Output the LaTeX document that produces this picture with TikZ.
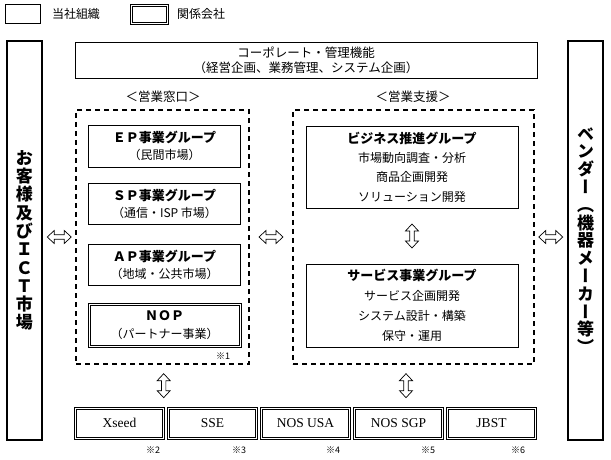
\documentclass[tikz,border=0pt]{standalone}
\usepackage{fontspec}
\setmainfont{Noto Sans CJK JP}
\newfontfamily\vfont[RawFeature=+vert]{Noto Sans CJK JP}
\newfontfamily\serfont{Liberation Serif}
\usetikzlibrary{calc}
\begin{document}
\begin{tikzpicture}[x=1pt,y=-1pt,
  box/.style={draw, line width=0.8pt, inner sep=0pt, align=center},
  dbox/.style={draw, line width=0.7pt, inner sep=0pt, align=center,
    append after command={\pgfextra{\draw[line width=0.7pt]
      ([shift={(2.4pt,-2.4pt)}]\tikzlastnode.north west) rectangle
      ([shift={(-2.4pt,2.4pt)}]\tikzlastnode.south east);}}},
  sidebox/.style={draw, line width=2.4pt, inner sep=0pt, minimum width=35pt, minimum height=399pt, align=center},
  dashbox/.style={draw, line width=1.4pt, dash pattern=on 5pt off 4pt, inner sep=0pt},
  harrow/.pic={\draw[line width=0.7pt, fill=white]
    (-12,0) -- (-5,-6.5) -- (-5,-2.2) -- (5,-2.2) -- (5,-6.5) -- (12,0)
    -- (5,6.5) -- (5,2.2) -- (-5,2.2) -- (-5,6.5) -- cycle;},
  grp/.style={box, minimum width=152pt, minimum height=41pt, font=\fontsize{12}{17}\selectfont},
  sup/.style={box, minimum width=212pt, font=\fontsize{12}{19.4}\selectfont},
  co/.style={dbox, minimum width=90pt, minimum height=32pt, font=\serfont\fontsize{13.5}{15}\selectfont},
  note/.style={inner sep=0pt, font=\fontsize{9}{10}\selectfont},
  lbl/.style={inner sep=0pt, font=\fontsize{12.5}{15}\selectfont}
]
\useasboundingbox (0,0) rectangle (611,460);
% legend
\node[box, minimum width=35pt, minimum height=19pt] (leg1) at (22.5,13.5) {};
\node[lbl, font=\fontsize{12}{14}\selectfont] (legt1) at (76,14) {当社組織};
\node[dbox, minimum width=38pt, minimum height=20pt] (leg2) at (149,14) {};
\node[lbl, font=\fontsize{12}{14}\selectfont] (legt2) at (201,14) {関係会社};
% side boxes
\node[sidebox, font=\bfseries\fontsize{17}{18.3}\selectfont] (cust) at (24.5,240.5)
  {お\\客\\様\\及\\び\\Ｉ\\Ｃ\\Ｔ\\市\\場};
\node[sidebox, font=\vfont\bfseries\fontsize{17}{17.8}\selectfont] (vend) at (585.5,240.5)
  {ベ\\ン\\ダ\\ー\\（\\機\\器\\メ\\ー\\カ\\ー\\等\\）};
% corporate
\node[box, minimum width=462pt, minimum height=36pt, font=\fontsize{12.5}{15}\selectfont] (corp) at (306,60)
  {コーポレート・管理機能\\（経営企画、業務管理、システム企画）};
% section labels
\node[lbl] (lab1) at (163,97) {＜営業窓口＞};
\node[lbl] (lab2) at (413,97) {＜営業支援＞};
% dashed areas
\node[dashbox, minimum width=173pt, minimum height=254pt] (sales) at (162.5,237) {};
\node[dashbox, minimum width=241pt, minimum height=254pt] (support) at (413.5,237) {};
% sales groups
\node[grp, minimum height=42pt] (ep) at (164.5,146)
  {{\bfseries\fontsize{13}{17}\selectfont ＥＰ事業グループ}\\（民間市場）};
\node[grp] (sp) at (164.5,203.5)
  {{\bfseries\fontsize{13}{17}\selectfont ＳＰ事業グループ}\\（通信・ISP 市場）};
\node[grp] (ap) at (164.5,264.5)
  {{\bfseries\fontsize{13}{17}\selectfont ＡＰ事業グループ}\\（地域・公共市場）};
\node[dbox, minimum width=153pt, minimum height=44pt, font=\fontsize{12}{18}\selectfont] (nop) at (164.5,325)
  {{\bfseries\fontsize{13}{18}\selectfont ＮＯＰ}\\（パートナー事業）};
\node[note] (n1) at (223,356) {※1};
% support groups
\node[sup, minimum height=82pt] (biz) at (412,167)
  {{\bfseries\fontsize{13}{19.4}\selectfont ビジネス推進グループ}\\市場動向調査・分析\\商品企画開発\\ソリューション開発};
\node[sup, minimum height=83pt, font=\fontsize{12}{20}\selectfont] (svc) at (412,305.5)
  {{\bfseries\fontsize{13}{20}\selectfont サービス事業グループ}\\サービス企画開発\\システム設計・構築\\保守・運用};
% related companies
\node[co] (c1) at (119.5,423) {Xseed};
\node[co] (c2) at (212.5,423) {SSE};
\node[co] (c3) at (305.5,423) {NOS USA};
\node[co] (c4) at (398.5,423) {NOS SGP};
\node[co] (c5) at (491.5,423) {JBST};
\node[note] (n2) at (153,450) {※2};
\node[note] (n3) at (239,450) {※3};
\node[note] (n4) at (333,450) {※4};
\node[note] (n5) at (428,450) {※5};
\node[note] (n6) at (518,450) {※6};
% double arrows
\pic (a1) at ($(cust.east |- sales.west)!0.5!(sales.west)$) {harrow};
\pic (a2) at ($(sales.east)!0.5!(support.west)$) {harrow};
\pic (a3) at ($(support.east)!0.5!(vend.west |- support.east)$) {harrow};
\pic[rotate=90] (a4) at ($(biz.south)!0.5!(svc.north)$) {harrow};
\pic[rotate=90] (a5) at ($(sales.south)!0.5!(c1.north east)$) {harrow};
\pic[rotate=90] (a6) at ($(support.south)!0.5!(c4.north)$) {harrow};
\end{tikzpicture}
\end{document}
